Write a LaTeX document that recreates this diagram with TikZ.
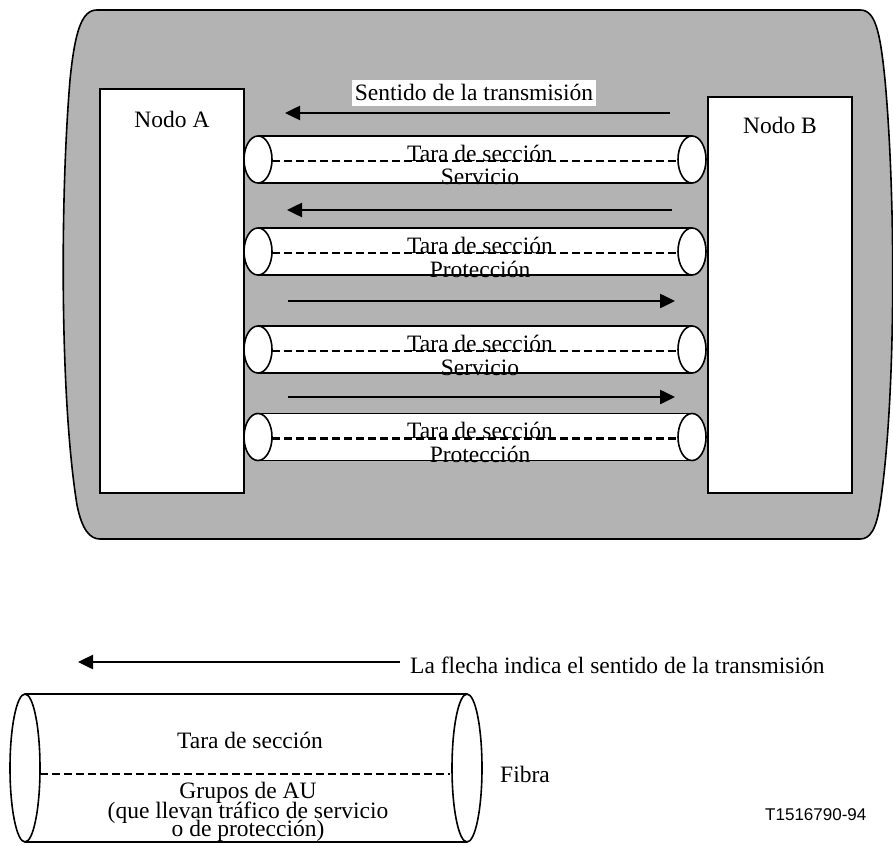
\documentclass[tikz,border=0pt]{standalone}
\usepackage{fontspec}
\setmainfont{Liberation Serif}
\newfontfamily\refsans{Liberation Sans}
\usetikzlibrary{arrows.meta}
\definecolor{shell}{RGB}{179,179,179}

\tikzset{
  nodebox/.style={draw, line width=1.2pt, fill=white},
  lbl/.style={font=\fontsize{23.5}{26}\selectfont, inner sep=0pt},
  flow/.style={line width=2.5pt, -{Triangle[length=15pt,width=14pt]}},
  tubeend/.style={draw, line width=1.6pt, fill=white},
  tubeside/.style={line width=1.3pt},
  sepline/.style={line width=2.8pt, dash pattern=on 8pt off 4pt},
}

\begin{document}
\begin{tikzpicture}[x=1pt,y=-1pt]
\useasboundingbox (0,0) rectangle (893,845);

% rounded grey enclosure
\draw[fill=shell, line width=1.6pt]
  (97,10) -- (860,10)
  .. controls (875,10) and (880,30) .. (885,80)
  .. controls (896,200) and (896,400) .. (880,505)
  .. controls (876,530) and (870,539) .. (860,539)
  -- (100,539)
  .. controls (90,539) and (82,530) .. (77,505)
  .. controls (60,400) and (60,200) .. (70,80)
  .. controls (75,30) and (82,10) .. (97,10) -- cycle;

% the two nodes
\draw[nodebox] (100,89) rectangle (244,493);
\draw[nodebox] (708,97) rectangle (852,493);
\node[lbl, anchor=base] (nodoA) at (172,128) {Nodo A};
\node[lbl, anchor=base] (nodoB) at (780,134) {Nodo B};

% direction label
\node[lbl, fill=white, inner xsep=3pt, inner ysep=5pt, text depth=0pt, anchor=base] (sentido) at (474,101) {Sentido de la transmisión};

% fibres between the nodes
\foreach \cy/\lab/\i in {159.5/Servicio/1, 251.5/Protección/2, 349.5/Servicio/3, 437/Protección/4}{
  \fill[white] (258,\cy-23.5) rectangle (692,\cy+23.5);
  \draw[tubeside] (258,\cy-23.5) -- (692,\cy-23.5) (258,\cy+23.5) -- (692,\cy+23.5);
  \draw[sepline] (272,\cy+1.5) -- (678,\cy+1.5);
  \draw[tubeend] (258,\cy) ellipse [x radius=14, y radius=23.5];
  \draw[tubeend] (692,\cy) ellipse [x radius=14, y radius=23.5];
  \node[lbl, anchor=base] (tara\i) at (480,\cy+1.5) {Tara de sección};
  \node[lbl, anchor=base] (kind\i) at (480,\cy+25.5) {\lab};
}

% transmission arrows
\coordinate (a1s) at (670,113); \coordinate (a1e) at (285,113);
\coordinate (a2s) at (672,210); \coordinate (a2e) at (287,210);
\coordinate (a3s) at (288,301); \coordinate (a3e) at (675,301);
\coordinate (a4s) at (288,397); \coordinate (a4e) at (675,397);
\draw[flow] (a1s) -- (a1e);
\draw[flow] (a2s) -- (a2e);
\draw[flow] (a3s) -- (a3e);
\draw[flow] (a4s) -- (a4e);

% legend: arrow
\coordinate (ls) at (400,662); \coordinate (le) at (78,662);
\draw[flow] (ls) -- (le);
\node[lbl, anchor=base west] (legarrow) at (410,673) {La flecha indica el sentido de la transmisión};

% legend: fibre
\draw[tubeside] (25,694) -- (467,694) (25,842) -- (467,842);
\draw[tubeend] (25,768) ellipse [x radius=15, y radius=74];
\draw[tubeend] (467,768) ellipse [x radius=15, y radius=74];
\draw[sepline] (40,774) -- (450,774);
\node[lbl, anchor=base] (legtara) at (250,748) {Tara de sección};
\node[lbl, anchor=base] (leg1) at (248,798) {Grupos de AU};
\node[lbl, anchor=base] (leg2) at (248,818) {(que llevan tráfico de servicio};
\node[lbl, anchor=base] (leg3) at (248,836) {o de protección)};
\node[lbl, anchor=base west] (fibra) at (500,782) {Fibra};
\node[inner sep=0pt, anchor=base west, font=\refsans\fontsize{17}{20}\selectfont] (code) at (765,820) {T1516790-94};
\end{tikzpicture}
\end{document}
